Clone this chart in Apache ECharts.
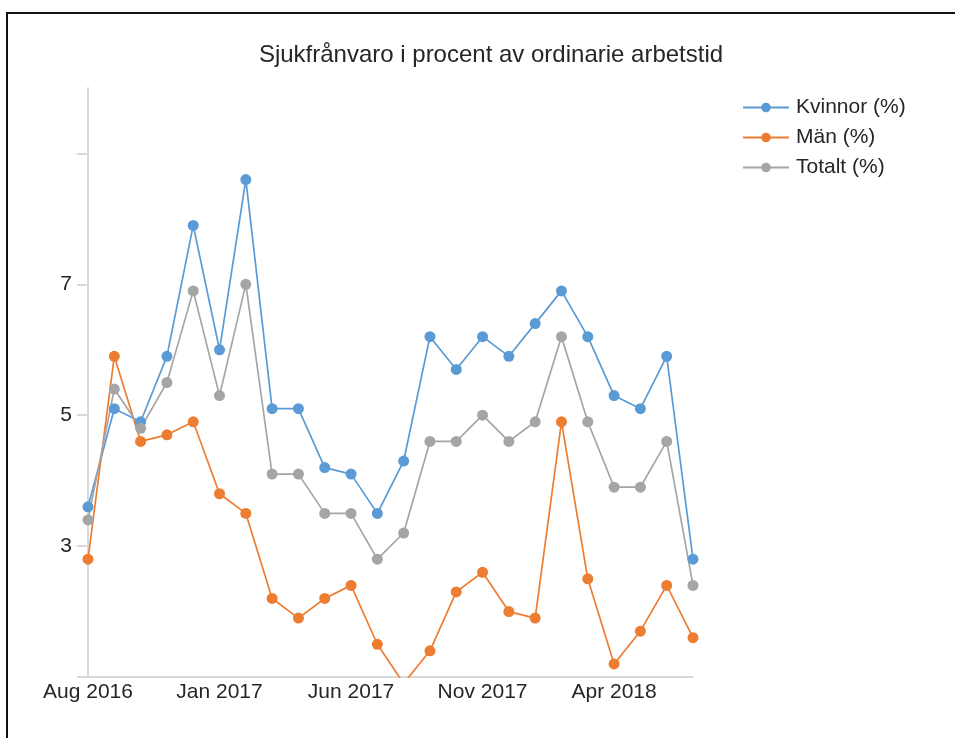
<!DOCTYPE html>
<html>
<head>
<meta charset="utf-8">
<script src="https://cdn.jsdelivr.net/npm/echarts@6/dist/echarts.min.js"></script>
<style>
html,body{margin:0;padding:0;background:#fff;}
#frame{position:absolute;left:6px;top:12px;width:1200px;height:1000px;border-left:2px solid #111;border-top:2px solid #111;box-sizing:border-box;}
#chart{position:absolute;left:0;top:0;width:955px;height:738px;}
</style>
</head>
<body>
<div id="frame"></div>
<div id="chart"></div>
<script>
const categories = ['Aug 2016','Sep 2016','Oct 2016','Nov 2016','Dec 2016','Jan 2017','Feb 2017','Mar 2017','Apr 2017','May 2017','Jun 2017','Jul 2017','Aug 2017','Sep 2017','Oct 2017','Nov 2017','Dec 2017','Jan 2018','Feb 2018','Mar 2018','Apr 2018','May 2018','Jun 2018','Jul 2018'];
const kvinnor = [3.6,5.1,4.9,5.9,7.9,6.0,8.6,5.1,5.1,4.2,4.1,3.5,4.3,6.2,5.7,6.2,5.9,6.4,6.9,6.2,5.3,5.1,5.9,2.8];
const man = [2.8,5.9,4.6,4.7,4.9,3.8,3.5,2.2,1.9,2.2,2.4,1.5,0.9,1.4,2.3,2.6,2.0,1.9,4.9,2.5,1.2,1.7,2.4,1.6];
const totalt = [3.4,5.4,4.8,5.5,6.9,5.3,7.0,4.1,4.1,3.5,3.5,2.8,3.2,4.6,4.6,5.0,4.6,4.9,6.2,4.9,3.9,3.9,4.6,2.4];
const yTicks = [1,3,5,7,9];
const yLabels = [3,5,7];

const chart = echarts.init(document.getElementById('chart'), null, {renderer:'canvas'});
const font = 'Liberation Sans, Arial, sans-serif';
function mk(name, data, color){
  return {name, type:'line', data, symbol:'circle', symbolSize:11, clip:true,
    lineStyle:{width:1.7, color}, itemStyle:{color}, emphasis:{disabled:true}};
}
chart.setOption({
  animation:false,
  backgroundColor:'transparent',
  title:{text:'Sjukfrånvaro i procent av ordinarie arbetstid', left:486, top:38, textAlign:'center',
    textStyle:{fontFamily:font, fontSize:24, fontWeight:'normal', color:'#262626'}},
  legend:{orient:'vertical', left:737, top:92, itemWidth:46, itemHeight:12, itemGap:9,
    textStyle:{fontFamily:font, fontSize:21, color:'#262626', padding:[0,0,0,2]},
    data:['Kvinnor (%)','Män (%)','Totalt (%)']},
  grid:{left:88, right:262, top:88, bottom:61, containLabel:false},
  xAxis:{type:'category', data:categories, boundaryGap:false,
    axisLine:{lineStyle:{color:'#d9d9d9', width:2}},
    axisTick:{show:false},
    axisLabel:{interval:4, margin:5, fontFamily:font, fontSize:21, color:'#262626'},
    splitLine:{show:false}},
  yAxis:{type:'value', min:1, max:10,
    axisLine:{show:true, lineStyle:{color:'#d9d9d9', width:2}},
    axisTick:{show:true, length:11, lineStyle:{color:'#d9d9d9', width:2}, customValues:yTicks},
    axisLabel:{customValues:yLabels, margin:16, fontFamily:font, fontSize:21, color:'#262626'},
    splitLine:{show:false}},
  series:[mk('Kvinnor (%)', kvinnor, '#5b9bd5'), mk('Män (%)', man, '#ed7d31'), mk('Totalt (%)', totalt, '#a5a5a5')]
});
</script>
</body>
</html>
